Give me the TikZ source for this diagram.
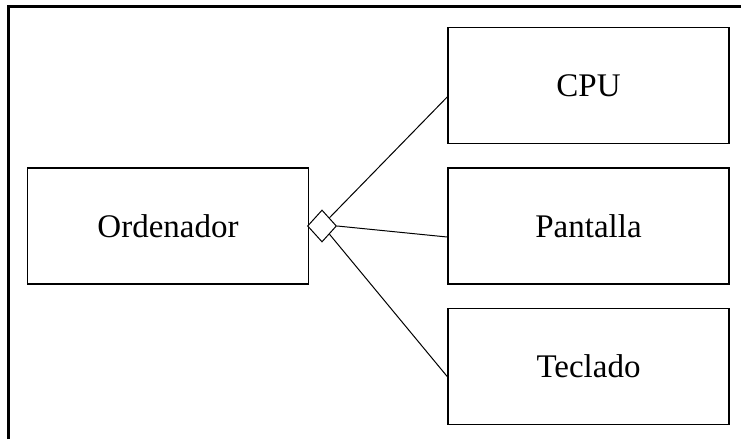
\documentclass[tikz,border=0pt]{standalone}
\usepackage{fontspec}
\setmainfont{Liberation Serif}
\usetikzlibrary{shapes.geometric}

\begin{document}
\begin{tikzpicture}[x=1pt, y=1pt,
  caja/.style={draw, line width=1.6pt, minimum width=281pt, minimum height=116pt,
    inner sep=0pt, font=\fontsize{33}{40}\selectfont},
  rombo/.style={draw, diamond, line width=1pt, minimum width=29pt, minimum height=32pt, inner sep=0pt}]
  \useasboundingbox (0,0) rectangle (741,439);
  \draw[line width=2.6pt] (8.5,0) -- (8.5,432.5) -- (741,432.5);
  \node[caja] (ord) at (168,213) {Ordenador};
  \node[caja] (cpu) at (588.5,353.5) {CPU};
  \node[caja] (pan) at (588.5,213) {Pantalla};
  \node[caja] (tec) at (588.5,72.5) {Teclado};
  \node[rombo, fill=white] (agr) at (322,213) {};
%  \path[-stealth]
  \path[line width=1pt]
  (agr.north east) edge ([yshift=-11.5pt]cpu.west)
  (agr.east) edge ([yshift=-11pt]pan.west)
  (agr.south east) edge ([yshift=-10pt]tec.west);
\end{tikzpicture}
\end{document}
